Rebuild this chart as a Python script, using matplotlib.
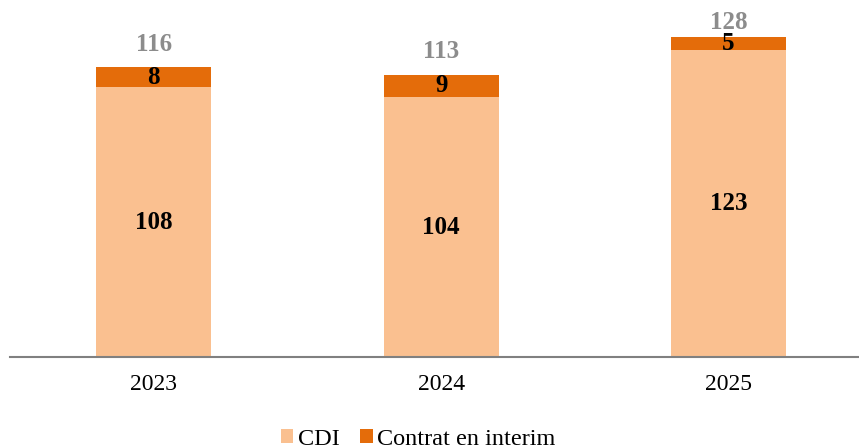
import matplotlib.pyplot as plt
import numpy as np

years = ['2023', '2024', '2025']
cdi = [108, 104, 123]
interim = [8, 9, 5]
totals = [116, 113, 128]

plt.rcParams['font.family'] = ['Liberation Serif', 'DejaVu Serif']

fig = plt.figure(figsize=(8.59, 4.48), dpi=100)
ax = fig.add_axes([10 / 859, 91 / 448, 849 / 859, 357 / 448])

x = np.arange(len(years))
w = 0.4
b1 = ax.bar(x, cdi, w, color='#FAC090', label='CDI')
b2 = ax.bar(x, interim, w, bottom=cdi, color='#E46C0A', label='Contrat en interim')

for i in range(len(years)):
    ax.text(x[i], cdi[i] / 2, str(cdi[i]), ha='center', va='center',
            fontsize=18, fontweight='bold', color='black')
    ax.text(x[i], cdi[i] + interim[i] / 2, str(interim[i]), ha='center', va='center',
            fontsize=18, fontweight='bold', color='black')
    ax.text(x[i], min(totals[i] + 6.6, 131.2), str(totals[i]), ha='center', va='baseline',
            fontsize=18, fontweight='bold', color='#8C8C8C')

ax.set_xlim(-0.5, 2.454)
ax.set_ylim(0, 142.8)
ax.set_xticks(x)
ax.set_xticklabels(years, fontsize=17)
ax.tick_params(axis='x', length=0, pad=12)
ax.set_yticks([])
for s in ['top', 'right', 'left']:
    ax.spines[s].set_visible(False)
ax.spines['bottom'].set_color('#808080')
ax.spines['bottom'].set_linewidth(1.5)

fig.legend(handles=[b1, b2], loc='center', bbox_to_anchor=(0.487, 0.02),
           ncol=2, frameon=False, fontsize=17.5, handlelength=0.5, handleheight=0.5,
           handletextpad=0.2, columnspacing=0.85)

fig.savefig('out.png', dpi=100)
